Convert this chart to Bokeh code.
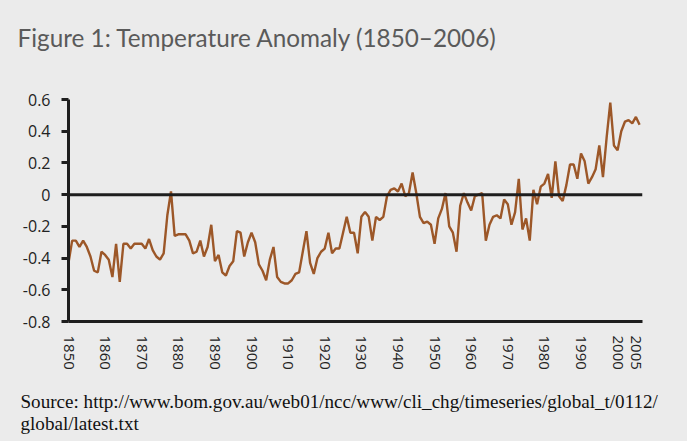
from bokeh.plotting import figure
from bokeh.models import Range1d, FixedTicker, Span, Label
from bokeh.layouts import column
from bokeh.embed import file_html
from bokeh.resources import INLINE

# ---- data ----
years = list(range(1850, 2007))
anomaly = [
    -0.43, -0.29, -0.29, -0.33, -0.29, -0.33, -0.39, -0.48, -0.49, -0.36,  # 1850s
    -0.38, -0.41, -0.52, -0.31, -0.55, -0.31, -0.31, -0.34, -0.31, -0.31,  # 1860s
    -0.31, -0.34, -0.28, -0.35, -0.39, -0.41, -0.37, -0.13, 0.02, -0.26,   # 1870s
    -0.25, -0.25, -0.25, -0.29, -0.37, -0.36, -0.29, -0.39, -0.33, -0.19,  # 1880s
    -0.42, -0.38, -0.49, -0.51, -0.45, -0.42, -0.23, -0.24, -0.39, -0.30,  # 1890s
    -0.24, -0.30, -0.44, -0.48, -0.54, -0.41, -0.33, -0.52, -0.55, -0.56,  # 1900s
    -0.56, -0.54, -0.50, -0.49, -0.36, -0.23, -0.43, -0.50, -0.40, -0.36,  # 1910s
    -0.34, -0.24, -0.37, -0.34, -0.34, -0.24, -0.14, -0.24, -0.24, -0.37,  # 1920s
    -0.14, -0.11, -0.14, -0.29, -0.14, -0.16, -0.14, -0.01, 0.03, 0.04,    # 1930s
    0.02, 0.07, -0.01, 0.01, 0.14, 0.01, -0.14, -0.18, -0.17, -0.19,       # 1940s
    -0.31, -0.15, -0.09, 0.01, -0.20, -0.24, -0.36, -0.07, 0.01, -0.05,    # 1950s
    -0.10, -0.01, 0.00, 0.01, -0.29, -0.19, -0.14, -0.13, -0.15, -0.03,    # 1960s
    -0.06, -0.19, -0.11, 0.10, -0.22, -0.15, -0.29, 0.03, -0.06, 0.05,     # 1970s
    0.07, 0.13, -0.02, 0.21, -0.01, -0.04, 0.06, 0.19, 0.19, 0.10,         # 1980s
    0.26, 0.21, 0.07, 0.11, 0.16, 0.31, 0.11, 0.36, 0.58, 0.31,            # 1990s
    0.28, 0.40, 0.46, 0.47, 0.45, 0.49, 0.44,                              # 2000s
]
x_ticks = [1850, 1860, 1870, 1880, 1890, 1900, 1910, 1920, 1930, 1940,
           1950, 1960, 1970, 1980, 1990, 2000, 2005]
x_tick_labels = [str(t) for t in x_ticks]
y_ticks = [-0.8, -0.6, -0.4, -0.2, 0, 0.2, 0.4, 0.6]
y_tick_labels = ["-0.8", "-0.6", "-0.4", "-0.2", "0", "0.2", "0.4", "0.6"]

title_text = "Figure 1: Temperature Anomaly (1850\u20132006)"
source_line1 = "Source: http://www.bom.gov.au/web01/ncc/www/cli_chg/timeseries/global_t/0112/"
source_line2 = "global/latest.txt"

BG = "#ebebeb"
INK = "#1e1e1e"
LINE = "#9c5728"

W = 687
TITLE_H = 89          # page rows 0..89
MAIN_H = 296          # page rows 89..385
SRC_H = 441 - TITLE_H - MAIN_H


def text_panel(height, y0):
    """A blank panel whose data coordinates equal page pixels (y downwards)."""
    f = figure(width=W, height=height, output_backend="svg", toolbar_location=None,
               x_range=Range1d(0, W), y_range=Range1d(y0 + height, y0),
               x_axis_type=None, y_axis_type=None, min_border=0, frame_align=False)
    f.background_fill_color = BG
    f.border_fill_color = BG
    f.outline_line_color = None
    f.xgrid.visible = False
    f.ygrid.visible = False
    return f


# ---- title panel ----
pt = text_panel(TITLE_H, 0)
pt.add_layout(Label(x=17, y=37, text=title_text, text_font="Lato", text_font_size="24.3px",
                    text_color="#5a5a5a", text_align="left", text_baseline="alphabetic"))

# ---- main chart ----
p = figure(width=W, height=MAIN_H, output_backend="svg", toolbar_location=None,
           x_range=Range1d(1850, 2006.8), y_range=Range1d(-0.8, 0.6),
           min_border_left=68, min_border_right=W - 642,
           min_border_top=99 - TITLE_H, min_border_bottom=TITLE_H + MAIN_H - 321,
           frame_align=False)
p.background_fill_color = BG
p.border_fill_color = BG
p.outline_line_color = None
p.xgrid.visible = False
p.ygrid.visible = False

p.add_layout(Span(location=0, dimension="width", line_color=INK, line_width=3))
p.line(years, anomaly, line_color=LINE, line_width=2.4)

xa = p.xaxis[0]
xa.ticker = FixedTicker(ticks=x_ticks)
xa.major_label_overrides = {t: l for t, l in zip(x_ticks, x_tick_labels)}
xa.major_label_orientation = "vertical"
xa.major_tick_in = 0
xa.major_tick_out = 0
xa.minor_tick_in = 0
xa.minor_tick_out = 0
xa.axis_line_color = INK
xa.axis_line_width = 3
xa.major_label_standoff = 14
xa.major_label_text_font = "Open Sans"
xa.major_label_text_font_size = "15px"
xa.major_label_text_color = "#222222"

ya = p.yaxis[0]
ya.ticker = FixedTicker(ticks=y_ticks)
ya.major_label_overrides = {t: l for t, l in zip(y_ticks, y_tick_labels)}
ya.major_tick_in = 0
ya.major_tick_out = 7
ya.major_tick_line_width = 3
ya.major_tick_line_color = INK
ya.minor_tick_in = 0
ya.minor_tick_out = 0
ya.axis_line_color = INK
ya.axis_line_width = 3
ya.major_label_standoff = 11
ya.major_label_text_font = "Open Sans"
ya.major_label_text_font_size = "16px"
ya.major_label_text_color = "#222222"

# ---- source panel ----
ps = text_panel(SRC_H, TITLE_H + MAIN_H)
for txt, base in [(source_line1, 401), (source_line2, 423)]:
    ps.add_layout(Label(x=20, y=base, text=txt, text_font="Liberation Serif",
                        text_font_size="19.1px", text_color="#111111",
                        text_align="left", text_baseline="alphabetic"))

layout = column(pt, p, ps, spacing=0)
layout.background = BG

html = file_html(layout, INLINE)
html = html.replace("<head>", "<head><style>html,body{background:%s;}</style>" % BG, 1)
open("out.html", "w").write(html)
